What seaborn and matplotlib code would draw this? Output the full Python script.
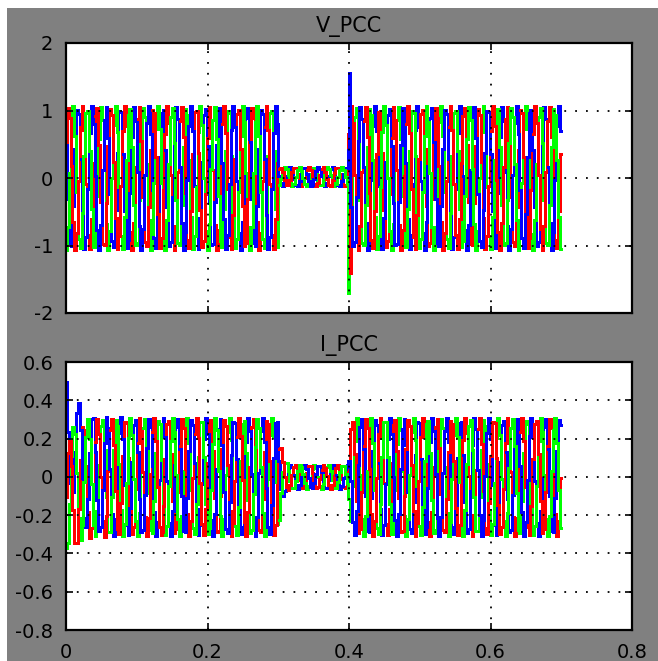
import numpy as np
import pandas as pd
import matplotlib
matplotlib.use("Agg")
import matplotlib.pyplot as plt
import seaborn as sns
from matplotlib.patches import Rectangle

# ---------------- data ----------------
phases = ["A", "B", "C"]
phase_colors = ["#ff0000", "#00ff00", "#0000ff"]
phase_shift_deg = [30, -90, 150]
draw_orders = [["C", "B", "A"], ["A", "C", "B"], ["B", "A", "C"]]
freq_hz = 50
sample_time = 0.0026
t_end = 0.7
chunk_len = 0.02

seg_start = [0.0, 0.3, 0.4]
seg_end = [0.3, 0.4, 0.7]
v_amp = [1.07, 0.14, 1.07]
v_off = [0.0, 0.02, 0.0]
i_amp = [0.31, 0.062, 0.31]

# current start-up DC offsets per phase and decay constant
i_dc0 = [-0.16, -0.08, 0.26]
i_dc_tau = 0.015
# current envelope time constants at fault start / clearing
i_fall_tau = 0.004
i_rise_tau = 0.0015
# voltage spike at fault clearing (per phase)
v_spike_time = [0.4025, 0.3995, 0.4005]
v_spike_val = [-1.4, -1.7, 1.55]

xticks = [0, 0.2, 0.4, 0.6, 0.8]
v_yticks = [-2, -1, 0, 1, 2]
i_yticks = [-0.8, -0.6, -0.4, -0.2, 0, 0.2, 0.4, 0.6]

# ---------------- build series ----------------
t = np.arange(0, t_end + 1e-9, sample_time)
w = 2 * np.pi * freq_hz


def envelope_v(tt):
    a = np.zeros_like(tt)
    o = np.zeros_like(tt)
    for s, e, amp, off in zip(seg_start, seg_end, v_amp, v_off):
        m = (tt >= s) & (tt < e + 1e-12)
        a[m] = amp
        o[m] = off
    return a, o


def envelope_i(tt):
    a = np.full_like(tt, i_amp[0])
    m1 = (tt >= seg_start[1]) & (tt < seg_end[1])
    a[m1] = i_amp[1] + (i_amp[0] - i_amp[1]) * np.exp(-(tt[m1] - seg_start[1]) / i_fall_tau)
    m2 = tt >= seg_start[2]
    a[m2] = i_amp[2] - (i_amp[2] - i_amp[1]) * np.exp(-(tt[m2] - seg_start[2]) / i_rise_tau)
    return a


rows_v = []
rows_i = []
for k, ph in enumerate(phases):
    phi = np.deg2rad(phase_shift_deg[k])
    tv = np.sort(np.append(t, v_spike_time[k]))
    av, ov = envelope_v(tv)
    v = av * np.sin(w * tv + phi) + ov
    v[np.isclose(tv, v_spike_time[k])] = v_spike_val[k]
    for a, b in zip(tv, v):
        rows_v.append((a, b, ph))
    ai = envelope_i(t)
    cur = ai * np.sin(w * t + phi - np.deg2rad(20)) + i_dc0[k] * np.exp(-t / i_dc_tau)
    for a, b in zip(t, cur):
        rows_i.append((a, b, ph))

df_v = pd.DataFrame(rows_v, columns=["t", "val", "phase"])
df_i = pd.DataFrame(rows_i, columns=["t", "val", "phase"])

# ---------------- figure ----------------
W, H = 658, 661
fig = plt.figure(figsize=(W / 100, H / 100), dpi=100)
fig.patch.set_facecolor("white")
fig.patches.append(Rectangle((7 / W, 0), 1 - 7 / W, 1 - 8 / H, transform=fig.transFigure,
                             facecolor="#808080", edgecolor="none", zorder=-10))

ax1 = fig.add_axes([66 / W, 1 - 313 / H, (632 - 66) / W, (313 - 43) / H])
ax2 = fig.add_axes([66 / W, 1 - 630 / H, (632 - 66) / W, (630 - 362) / H])

pal = dict(zip(phases, phase_colors))
n_chunks = int(np.ceil(t_end / chunk_len))

for ax, df, yt, ttl in [(ax1, df_v, v_yticks, "V_PCC"), (ax2, df_i, i_yticks, "I_PCC")]:
    ax.set_facecolor("white")
    for c in range(n_chunks):
        t0 = c * chunk_len
        t1 = (c + 1) * chunk_len + sample_time * 1.01
        sub = df[(df["t"] >= t0 - 1e-9) & (df["t"] <= t1)]
        sns.lineplot(data=sub, x="t", y="val", hue="phase",
                     hue_order=draw_orders[c % len(draw_orders)],
                     palette=pal, estimator=None, legend=False, ax=ax,
                     drawstyle="steps-mid", linewidth=2.1, antialiased=False)
    ax.set_xlim(0, 0.8)
    ax.set_ylim(yt[0], yt[-1])
    ax.set_xticks(xticks)
    ax.set_yticks(yt)
    ax.set_yticklabels([f"{v:g}" for v in yt])
    ax.set_xticklabels([f"{v:g}" for v in xticks])
    ax.set_xlabel("")
    ax.set_ylabel("")
    ax.set_axisbelow(False)
    ax.grid(True, color="black", linestyle=(0, (1, 5)), linewidth=1.3)
    ax.tick_params(direction="in", length=5, width=1.2, top=True, right=True,
                   labelsize=14, colors="black", pad=9)
    for sp in ax.spines.values():
        sp.set_color("black")
        sp.set_linewidth(1.6)
    ax.set_title(ttl, fontsize=15, pad=8, color="black")

ax1.tick_params(labelbottom=False)

fig.savefig("out.png", dpi=100, facecolor=fig.get_facecolor())
